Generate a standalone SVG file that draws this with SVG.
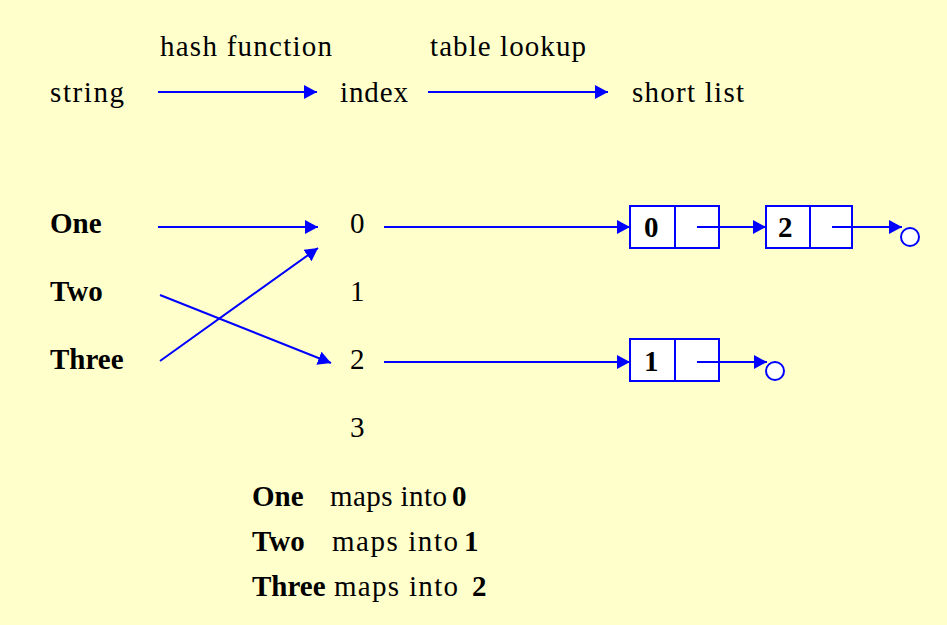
<svg xmlns="http://www.w3.org/2000/svg" width="947" height="625" viewBox="0 0 947 625">
<defs>
<style>
text{font-family:"Liberation Serif","Times New Roman",serif;font-size:29px;fill:#000}
.b{font-weight:bold}
.ln{stroke:#0000FF;stroke-width:2;fill:none}
.box{fill:#FFFFFF;stroke:#0000FF;stroke-width:2}
</style>
<marker id="ah" markerUnits="userSpaceOnUse" markerWidth="14" markerHeight="14" refX="13" refY="7" orient="auto">
<path d="M0,0 L13,7 L0,14 Z" fill="#0000FF"/>
</marker>
</defs>
<rect x="0" y="0" width="947" height="625" fill="#FFFFCC"/>
<g id="labels-top">
<text x="160" y="56" textLength="172" lengthAdjust="spacing">hash function</text>
<text x="430" y="56" textLength="156" lengthAdjust="spacing">table lookup</text>
</g>
<g id="n-string"><text x="50" y="102" textLength="74" lengthAdjust="spacing">string</text></g>
<g id="n-index"><text x="340" y="102" textLength="68" lengthAdjust="spacing">index</text></g>
<g id="n-shortlist"><text x="632" y="102" textLength="112" lengthAdjust="spacing">short list</text></g>
<g id="n-one"><text class="b" x="50" y="233">One</text></g>
<g id="n-two"><text class="b" x="50" y="301">Two</text></g>
<g id="n-three"><text class="b" x="50" y="369">Three</text></g>
<g id="n-idx0"><text x="350" y="233">0</text></g>
<g id="n-idx1"><text x="350" y="301">1</text></g>
<g id="n-idx2"><text x="350" y="369">2</text></g>
<g id="n-idx3"><text x="350" y="437">3</text></g>
<g id="n-node0">
<rect class="box" x="630" y="206" width="89" height="42"/>
<line class="ln" x1="675" y1="206" x2="675" y2="248"/>
<text class="b" x="644" y="237">0</text>
</g>
<g id="n-node2">
<rect class="box" x="766" y="206" width="86" height="42"/>
<line class="ln" x1="810" y1="206" x2="810" y2="248"/>
<text class="b" x="778" y="237">2</text>
</g>
<g id="n-node1">
<rect class="box" x="630" y="339" width="89" height="42"/>
<line class="ln" x1="675" y1="339" x2="675" y2="381"/>
<text class="b" x="644" y="371">1</text>
</g>
<g id="n-null1"><circle class="box" cx="910" cy="237" r="9"/></g>
<g id="n-null2"><circle class="box" cx="775" cy="371" r="9"/></g>
<g id="connectors">
<line class="ln" x1="158" y1="92" x2="317" y2="92" marker-end="url(#ah)"/>
<line class="ln" x1="428" y1="92" x2="608" y2="92" marker-end="url(#ah)"/>
<line class="ln" x1="158" y1="227" x2="318" y2="227" marker-end="url(#ah)"/>
<line class="ln" x1="160" y1="361" x2="318" y2="248" marker-end="url(#ah)"/>
<line class="ln" x1="160" y1="295" x2="331" y2="363" marker-end="url(#ah)"/>
<line class="ln" x1="384" y1="227" x2="630" y2="227" marker-end="url(#ah)"/>
<line class="ln" x1="697" y1="227" x2="766" y2="227" marker-end="url(#ah)"/>
<line class="ln" x1="832" y1="227" x2="902" y2="227" marker-end="url(#ah)"/>
<line class="ln" x1="384" y1="362" x2="630" y2="362" marker-end="url(#ah)"/>
<line class="ln" x1="697" y1="362" x2="767" y2="362" marker-end="url(#ah)"/>
</g>
<g id="legend">
<text class="b" x="252" y="506">One</text>
<text x="330" y="506" textLength="117" lengthAdjust="spacing">maps into</text>
<text class="b" x="452" y="506">0</text>
<text class="b" x="252" y="551">Two</text>
<text x="332" y="551" textLength="126" lengthAdjust="spacing">maps into</text>
<text class="b" x="464" y="551">1</text>
<text class="b" x="252" y="596">Three</text>
<text x="334" y="596" textLength="124" lengthAdjust="spacing">maps into</text>
<text class="b" x="472" y="596">2</text>
</g>
</svg>
